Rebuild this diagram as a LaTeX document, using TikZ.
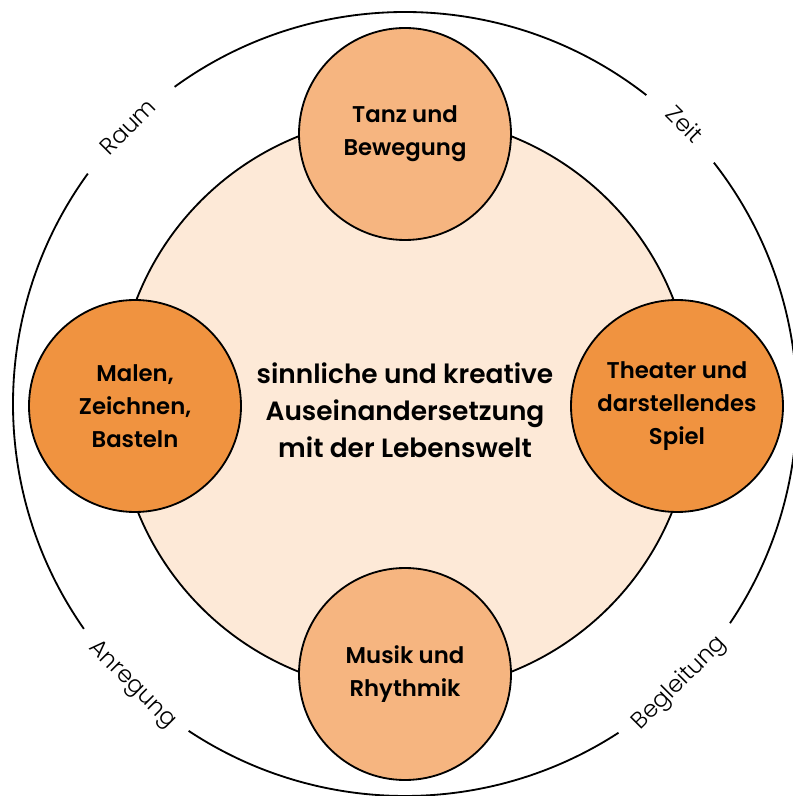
\documentclass[tikz,border=0pt]{standalone}
\usepackage{fontspec}
\IfFontExistsTF{Poppins SemiBold}{\setmainfont{Poppins}[BoldFont={Poppins SemiBold}]}{%
  \IfFontExistsTF{Poppins Medium}{\setmainfont{Poppins}[BoldFont={Poppins Medium}]}{\setmainfont{Poppins}}}
\IfFontExistsTF{Poppins Light}{\newfontfamily\rimfont{Poppins Light}}{\newfontfamily\rimfont{Poppins}}
\definecolor{peach}{RGB}{253,233,215}
\definecolor{apricot}{RGB}{246,181,128}
\definecolor{tangerine}{RGB}{240,147,64}

\begin{document}
\begin{tikzpicture}[line width=1.3pt,
  topic/.style={circle, draw, minimum size=5.3cm, inner sep=0pt, align=center,
    font=\bfseries\fontsize{16.2}{23.5}\selectfont},
  rim/.style={font=\rimfont\fontsize{16.5}{18}\selectfont}]
  \useasboundingbox (-10.125,-9.8) rectangle (9.675,10.1);
  % outer ring, broken where the labels sit
  \draw (52:9.8) arc[start angle=52, end angle=126, radius=9.8];
  \draw (144:9.8) arc[start angle=144, end angle=215, radius=9.8];
  \draw (236.5:9.8) arc[start angle=236.5, end angle=303, radius=9.8];
  \draw (326:9.8) arc[start angle=326, end angle=398, radius=9.8];
  \node[rim, rotate=45] (raum) at (135:9.8) {Raum};
  \node[rim, rotate=-45] (zeit) at (45:9.9) {Zeit};
  \node[rim, rotate=-45] (anregung) at (225.8:9.8) {Anregung};
  \node[rim, rotate=45] (begleitung) at (314.5:9.8) {Begleitung};

  \node[circle, draw, fill=peach, minimum size=14.4cm] (core) at (0,0) {};
  \node[align=center, font=\bfseries\fontsize{18.8}{26.3}\selectfont] (theme) at (0,-0.15)
    {sinnliche und kreative\\Auseinandersetzung\\mit der Lebenswelt};

  \node[topic, fill=apricot] (tanz) at (0,6.75) {Tanz und\\Bewegung};
  \node[topic, fill=tangerine] (malen) at (-6.75,-0.05) {Malen,\\Zeichnen,\\Basteln};
  \node[topic, fill=tangerine] (theater) at (6.8,-0.05) {Theater und\\darstellendes\\Spiel};
  \node[topic, fill=apricot] (musik) at (0,-6.75) {Musik und\\Rhythmik};
\end{tikzpicture}
\end{document}
